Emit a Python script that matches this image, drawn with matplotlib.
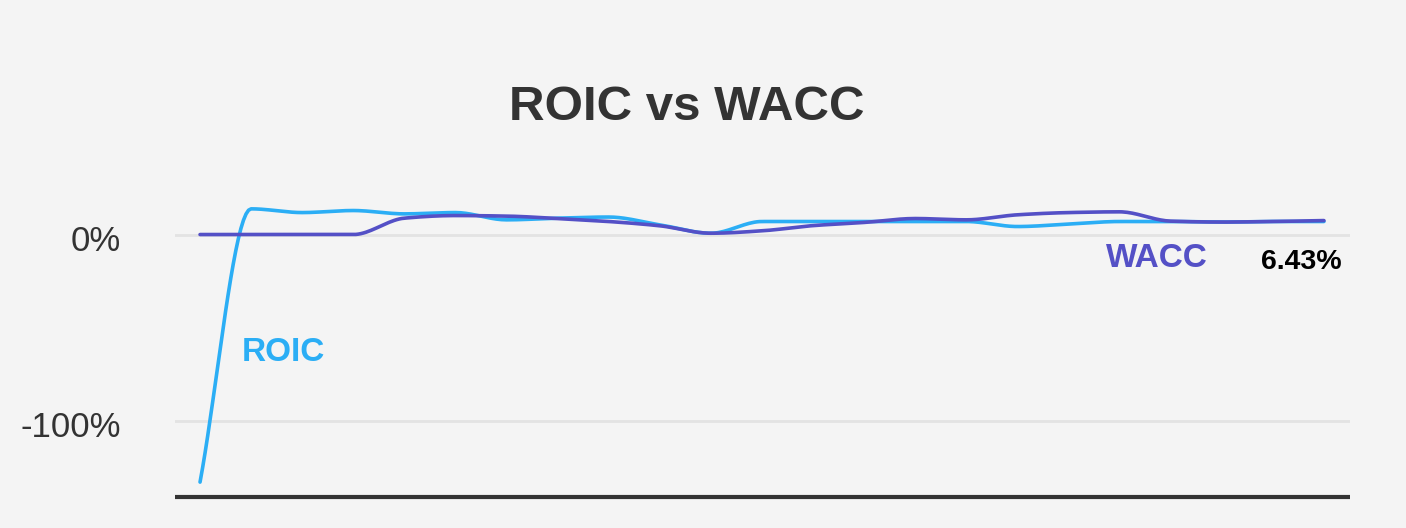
import numpy as np
import matplotlib
matplotlib.use("Agg")
import matplotlib.pyplot as plt

plt.rcParams["font.family"] = ["Liberation Sans", "DejaVu Sans"]

# values (percent)
roic = [-133, 13.8, 11.8, 12.9, 11.1, 11.8, 7.9, 8.8, 9.4, 5.2, 0.7, 7.0,
        7.0, 7.0, 7.0, 7.0, 4.3, 5.6, 7.0, 7.0, 6.7, 7.0, 7.0]
wacc = [0, 0, 0, 0, 8.8, 10.2, 9.9, 8.6, 7.0, 4.7, 0.7, 2.0,
        4.8, 6.5, 8.6, 7.9, 10.6, 11.8, 12.2, 7.2, 6.7, 7.0, 7.5]
last_wacc = "6.43%"
ytick_vals = [0, -100]
ytick_labels = ["0%", "-100%"]

roic_color = "#2BAEF5"
wacc_color = "#5450C6"
bg = "#F4F4F4"


def smooth(y, n=20):
    # monotone cubic (Fritsch-Carlson) through the points
    y = np.asarray(y, dtype=float)
    x = np.arange(len(y), dtype=float)
    d = np.diff(y)
    m = np.zeros_like(y)
    m[0], m[-1] = d[0], d[-1]
    for i in range(1, len(y) - 1):
        if d[i - 1] * d[i] > 0:
            m[i] = 2 / (1 / d[i - 1] + 1 / d[i])
    xs, ys = [], []
    for i in range(len(y) - 1):
        t = np.linspace(0, 1, n, endpoint=False)
        h00 = 2 * t**3 - 3 * t**2 + 1
        h10 = t**3 - 2 * t**2 + t
        h01 = -2 * t**3 + 3 * t**2
        h11 = t**3 - t**2
        xs.append(x[i] + t)
        ys.append(h00 * y[i] + h10 * m[i] + h01 * y[i + 1] + h11 * m[i + 1])
    xs.append([x[-1]])
    ys.append([y[-1]])
    return np.concatenate(xs), np.concatenate(ys)


fig = plt.figure(figsize=(14.06, 5.28), dpi=100, facecolor=bg)
ax = fig.add_axes([175 / 1406, 1 - 497 / 528, 1175 / 1406, (497 - 188) / 528])
ax.set_facecolor(bg)

ax.set_xlim(-0.49, 22.51)
ax.set_ylim(-141, 25)

for v in ytick_vals:
    ax.axhline(v, color="#E3E3E3", lw=2, zorder=1)

xr, yr = smooth(roic)
xw, yw = smooth(wacc)
ax.plot(xr, yr, color=roic_color, lw=2.6, solid_capstyle="round", zorder=3)
ax.plot(xw, yw, color=wacc_color, lw=2.6, solid_capstyle="round", zorder=4)

for s in ["top", "right", "left"]:
    ax.spines[s].set_visible(False)
ax.spines["bottom"].set_color("#333333")
ax.spines["bottom"].set_linewidth(3)
ax.spines["bottom"].set_capstyle("butt")
ax.set_xticks([])
ax.set_yticks([])

# y labels sit a little below their grid lines
for v, lab in zip(ytick_vals, ytick_labels):
    ax.annotate(lab, xy=(0, v), xycoords=("axes fraction", "data"),
                xytext=(-54, -7), textcoords="offset pixels",
                ha="right", va="center", fontsize=25, color="#333333")

ax.text(0.82, -63.5, "ROIC", color=roic_color, fontsize=24, fontweight="bold",
        ha="left", va="center")
ax.text(17.74, -13, "WACC", color=wacc_color, fontsize=24, fontweight="bold",
        ha="left", va="center")
ax.text(20.76, -14.5, last_wacc, color="black", fontsize=20.5, fontweight="bold",
        ha="left", va="center")

fig.text(687 / 1406, 1 - 108 / 528, "ROIC vs WACC", fontsize=35.5,
         fontweight="bold", color="#333333", ha="center", va="center")

fig.savefig("out.png", dpi=100, facecolor=bg)
